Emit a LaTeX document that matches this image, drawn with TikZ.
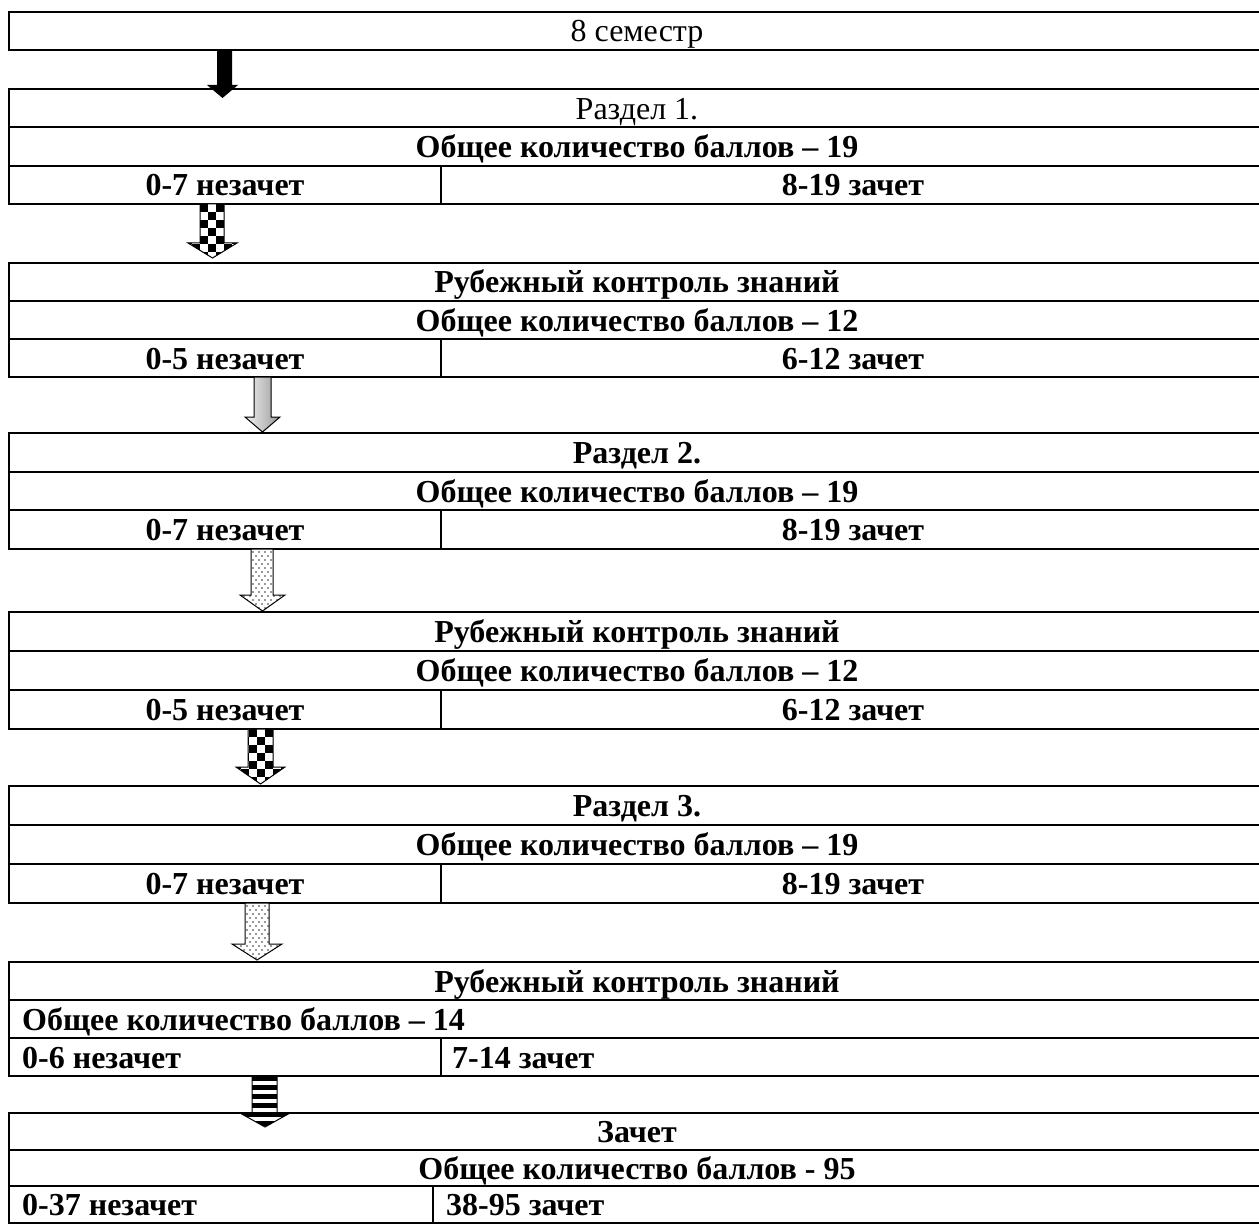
\documentclass[tikz,border=0pt]{standalone}
\usepackage{fontspec}
\setmainfont{Liberation Serif}
\tikzset{
  cell/.style={draw=black, line width=2pt},
  tb/.style={font=\fontsize{32}{36}\selectfont\bfseries, inner sep=0pt, text height=22pt, text depth=0pt},
  tn/.style={font=\fontsize{32}{36}\selectfont, inner sep=0pt, text height=22pt, text depth=0pt},
  aout/.style={draw=black, line width=1pt, line join=miter},
}
% table block: top, bottom, divider x
\newcommand\tblock[3]{%
  \pgfmathsetmacro\ra{#1+(#2-#1)/3}%
  \pgfmathsetmacro\rb{#1+2*(#2-#1)/3}%
  \draw[cell] (9,#1) rectangle (1265,#2);
  \draw[cell] (9,\ra) -- (1265,\ra);
  \draw[cell] (9,\rb) -- (1265,\rb);
  \draw[cell] (#3,\rb) -- (#3,#2);
}
% block arrow: shaft x1 x2, head h1 h2, ytop, yhead, ytip, style
\newcommand\barrow[8]{%
  \path[#8] (#1,#5) -- (#2,#5) -- (#2,#6) -- (#4,#6) -- ({(#3+#4)/2},#7) -- (#3,#6) -- (#1,#6) -- cycle;}
\newcommand\bclip[7]{%
  \clip (#1,#5) -- (#2,#5) -- (#2,#6) -- (#4,#6) -- ({(#3+#4)/2},#7) -- (#3,#6) -- (#1,#6) -- cycle;}
\newcommand\checker[2]{% x0, y0
  \foreach \i in {-3,...,5}{\foreach \j in {0,...,8}{%
    \pgfmathtruncatemacro\cpar{mod(\i+\j+10,2)}%
    \ifnum\cpar=0 \fill[black] ({#1+\i*8},{#2+\j*8}) rectangle ++(8,8);\fi}}}
\newcommand\dotsfill[2]{% x0, y0
  \foreach \i in {-4,...,10}{\foreach \j in {0,...,16}{%
    \fill[black!80] ({#1+2+\i*6+mod(\j,2)*3},{#2+3+\j*4}) circle (0.9);}}}
\begin{document}
\begin{tikzpicture}[x=1pt,y=-1pt]
\fill[white] (0,0) rectangle (1259,1225);
\useasboundingbox (0,0) rectangle (1259,1225);
\clip (0,0) rectangle (1259,1225);

% block 0
\draw[cell] (9,12) rectangle (1265,50);
\node[tn] (sem) at (637,31) {8 семестр};

% block 1
\tblock{89}{204}{441}
\node[tn] (b1a) at (637,108.2) {Раздел 1.};
\node[tb] (b1b) at (637,146.5) {Общее количество баллов – 19};
\node[tb] (b1l) at (225,184.8) {0-7 незачет};
\node[tb] (b1r) at (853,184.8) {8-19 зачет};

% block 2
\tblock{263}{377}{441}
\node[tb] (b2a) at (637,282) {Рубежный контроль знаний};
\node[tb] (b2b) at (637,320) {Общее количество баллов – 12};
\node[tb] (b2l) at (225,358) {0-5 незачет};
\node[tb] (b2r) at (853,358) {6-12 зачет};

% block 3
\tblock{433}{549}{441}
\node[tb] (b3a) at (637,452.3) {Раздел 2.};
\node[tb] (b3b) at (637,491) {Общее количество баллов – 19};
\node[tb] (b3l) at (225,529.7) {0-7 незачет};
\node[tb] (b3r) at (853,529.7) {8-19 зачет};

% block 4
\tblock{612}{729}{441}
\node[tb] (b4a) at (637,631.5) {Рубежный контроль знаний};
\node[tb] (b4b) at (637,670.5) {Общее количество баллов – 12};
\node[tb] (b4l) at (225,709.5) {0-5 незачет};
\node[tb] (b4r) at (853,709.5) {6-12 зачет};

% block 5
\tblock{786}{903}{441}
\node[tb] (b5a) at (637,805.5) {Раздел 3.};
\node[tb] (b5b) at (637,844.5) {Общее количество баллов – 19};
\node[tb] (b5l) at (225,883.5) {0-7 незачет};
\node[tb] (b5r) at (853,883.5) {8-19 зачет};

% block 6
\tblock{962}{1076}{441}
\node[tb] (b6a) at (637,981) {Рубежный контроль знаний};
\node[tb,anchor=west] (b6b) at (22,1019) {Общее количество баллов – 14};
\node[tb,anchor=west] (b6l) at (22,1057) {0-6 незачет};
\node[tb,anchor=west] (b6r) at (452,1057) {7-14 зачет};

% block 7
\tblock{1113}{1223}{433}
\node[tb] (b7a) at (637,1131.3) {Зачет};
\node[tb] (b7b) at (637,1168) {Общее количество баллов - 95};
\node[tb,anchor=west] (b7l) at (22,1204.7) {0-37 незачет};
\node[tb,anchor=west] (b7r) at (446,1204.7) {38-95 зачет};

% arrow 1: solid black
\barrow{217}{232}{207}{238}{50}{85}{98}{fill=black}
% arrow 2: checker
\begin{scope}\bclip{200}{224}{188}{237}{204}{243}{258}\fill[white] (180,200) rectangle (250,260);\checker{200}{204}\end{scope}
\barrow{200}{224}{188}{237}{204}{243}{258}{aout}
% arrow 3: gradient
\barrow{254}{271}{245}{280}{377}{417}{432}{left color=gray!10,right color=gray!80}
\barrow{254}{271}{245}{280}{377}{417}{432}{aout}
% arrow 4: dots
\begin{scope}\bclip{251}{273}{240}{285}{549}{595}{611}\fill[white] (230,545) rectangle (300,615);\dotsfill{251}{549}\end{scope}
\barrow{251}{273}{240}{285}{549}{595}{611}{aout}
% arrow 5: checker
\begin{scope}\bclip{248}{273}{236}{285}{729}{767}{784}\fill[white] (230,725) rectangle (300,790);\checker{249}{729}\end{scope}
\barrow{248}{273}{236}{285}{729}{767}{784}{aout}
% arrow 6: dots
\begin{scope}\bclip{245}{269}{232}{282}{903}{944}{960}\fill[white] (225,900) rectangle (300,965);\dotsfill{245}{903}\end{scope}
\barrow{245}{269}{232}{282}{903}{944}{960}{aout}
% arrow 7: stripes
\begin{scope}\bclip{252}{277}{240}{290}{1076}{1113}{1127}\fill[white] (235,1070) rectangle (300,1130);
\foreach \k in {0,...,6}{\fill[black] (235,{1076+\k*9}) rectangle (300,{1076+\k*9+4.5});}\end{scope}
\barrow{252}{277}{240}{290}{1076}{1113}{1127}{aout}
\end{tikzpicture}
\end{document}
